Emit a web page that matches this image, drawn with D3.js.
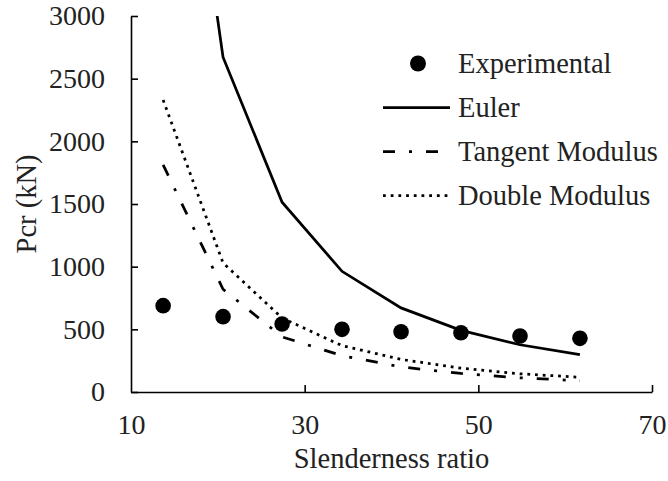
<!DOCTYPE html>
<html>
<head>
<meta charset="utf-8">
<script src="https://cdn.jsdelivr.net/npm/d3@7"></script>
<style>
	body { margin: 0; background: white; }
	svg { display: block; font-family: 'Liberation Serif', 'Times New Roman', serif; }
</style>
</head>
<body>
<div id="app"></div>
<script>
// slenderness ratios of the tested columns
const slenderness = [13.7, 20.6, 27.4, 34.3, 41.1, 48.0, 54.8, 61.7]

// critical loads (kN)
const experimental = [689, 601, 543, 500, 481, 473, 447, 428]
const euler = [6040, 2671, 1514, 963, 671, 492, 377, 298]
const tangentModulus = [1812, 820, 440, 290, 200, 148, 113, 90]
const doubleModulus = [2330, 1030, 590, 370, 260, 190, 145, 118]

const xTicks = [10, 30, 50, 70]
const yTicks = [0, 500, 1000, 1500, 2000, 2500, 3000]

const width = 668
const height = 481
let margin = { top: 16, right: 16, bottom: 89, left: 131 }

const app = d3.select('#app')
const svg = app.append('svg').attr('width', width).attr('height', height)

// scales
let xScale = d3.scaleLinear().domain([10, 70]).range([margin.left, width - margin.right])
let yScale = d3.scaleLinear().domain([0, 3000]).range([height - margin.bottom, margin.top])

// clip the curves to the plot area (Euler goes off the top)
svg.append('clipPath')
	.attr('id', 'plot-clip')
	.append('rect')
	.attr('x', margin.left)
	.attr('y', margin.top)
	.attr('width', width - margin.left - margin.right)
	.attr('height', height - margin.top - margin.bottom)

// line series with their dash styles
const series = [
	{ name: 'Euler', values: euler, dash: null },
	{ name: 'Tangent Modulus', values: tangentModulus, dash: '12,14,3,14' },
	{ name: 'Double Modulus', values: doubleModulus, dash: '2.8,4.9' },
]

let line = d3.line()
	.x((d, i) => xScale(slenderness[i]))
	.y((d) => yScale(d))

let plot = svg.append('g').attr('clip-path', 'url(#plot-clip)')

plot.selectAll('path.series')
	.data(series)
	.enter()
	.append('path')
	.attr('class', 'series')
	.attr('d', (s) => line(s.values))
	.attr('fill', 'none')
	.attr('stroke', 'black')
	.attr('stroke-width', 2.75)
	.attr('stroke-dasharray', (s) => s.dash)

// experimental points
plot.selectAll('circle')
	.data(experimental)
	.enter()
	.append('circle')
	.attr('cx', (d, i) => xScale(slenderness[i]))
	.attr('cy', (d) => yScale(d))
	.attr('r', 7.8)
	.attr('fill', 'black')

// y-axis, ticks point inward
let yAxis = d3.axisLeft(yScale)
	.tickValues(yTicks)
	.tickFormat(d3.format('d'))
	.tickSizeInner(-7)
	.tickSizeOuter(0)
	.tickPadding(26)
let gy = svg.append('g').attr('transform', `translate(${margin.left},0)`).call(yAxis)

// x-axis, ticks point inward
let xAxis = d3.axisBottom(xScale)
	.tickValues(xTicks)
	.tickFormat(d3.format('d'))
	.tickSizeInner(-7)
	.tickSizeOuter(0)
	.tickPadding(22)
let gx = svg.append('g').attr('transform', `translate(0,${height - margin.bottom})`).call(xAxis)

for (const g of [gx, gy]) {
	g.select('.domain').attr('stroke-width', 1.6)
	g.selectAll('.tick line').attr('stroke-width', 1.6)
	g.selectAll('text')
		.attr('font-family', 'Liberation Serif, serif')
		.attr('font-size', '28px')
		.attr('fill', '#222')
}
gx.selectAll('.tick').filter((d) => d === 10).select('line').remove()

// axis titles
svg.append('text')
	.attr('x', (margin.left + width - margin.right) / 2)
	.attr('y', 468)
	.attr('text-anchor', 'middle')
	.attr('font-size', '28.5px')
	.attr('fill', '#222')
	.text('Slenderness ratio')

svg.append('text')
	.attr('transform', 'translate(36,204) rotate(-90)')
	.attr('text-anchor', 'middle')
	.attr('font-size', '28.5px')
	.attr('fill', '#222')
	.text('Pcr (kN)')

// legend
const legendItems = ['Experimental', 'Euler', 'Tangent Modulus', 'Double Modulus']
let legend = svg.append('g')
let rows = legend.selectAll('g')
	.data(legendItems)
	.enter()
	.append('g')
	.attr('transform', (d, i) => `translate(383,${63.5 + i * 44})`)

rows.filter((d, i) => i === 0)
	.append('circle')
	.attr('cx', 35)
	.attr('r', 8)
	.attr('fill', 'black')

rows.filter((d, i) => i > 0)
	.append('line')
	.attr('x1', 0)
	.attr('x2', 67)
	.attr('stroke', 'black')
	.attr('stroke-width', 2.75)
	.attr('stroke-dasharray', (d, i) => series[i].dash)

rows.append('text')
	.attr('x', 75)
	.attr('y', 9.5)
	.attr('font-size', '28.5px')
	.attr('fill', '#222')
	.text((d) => d)
</script>
</body>
</html>
